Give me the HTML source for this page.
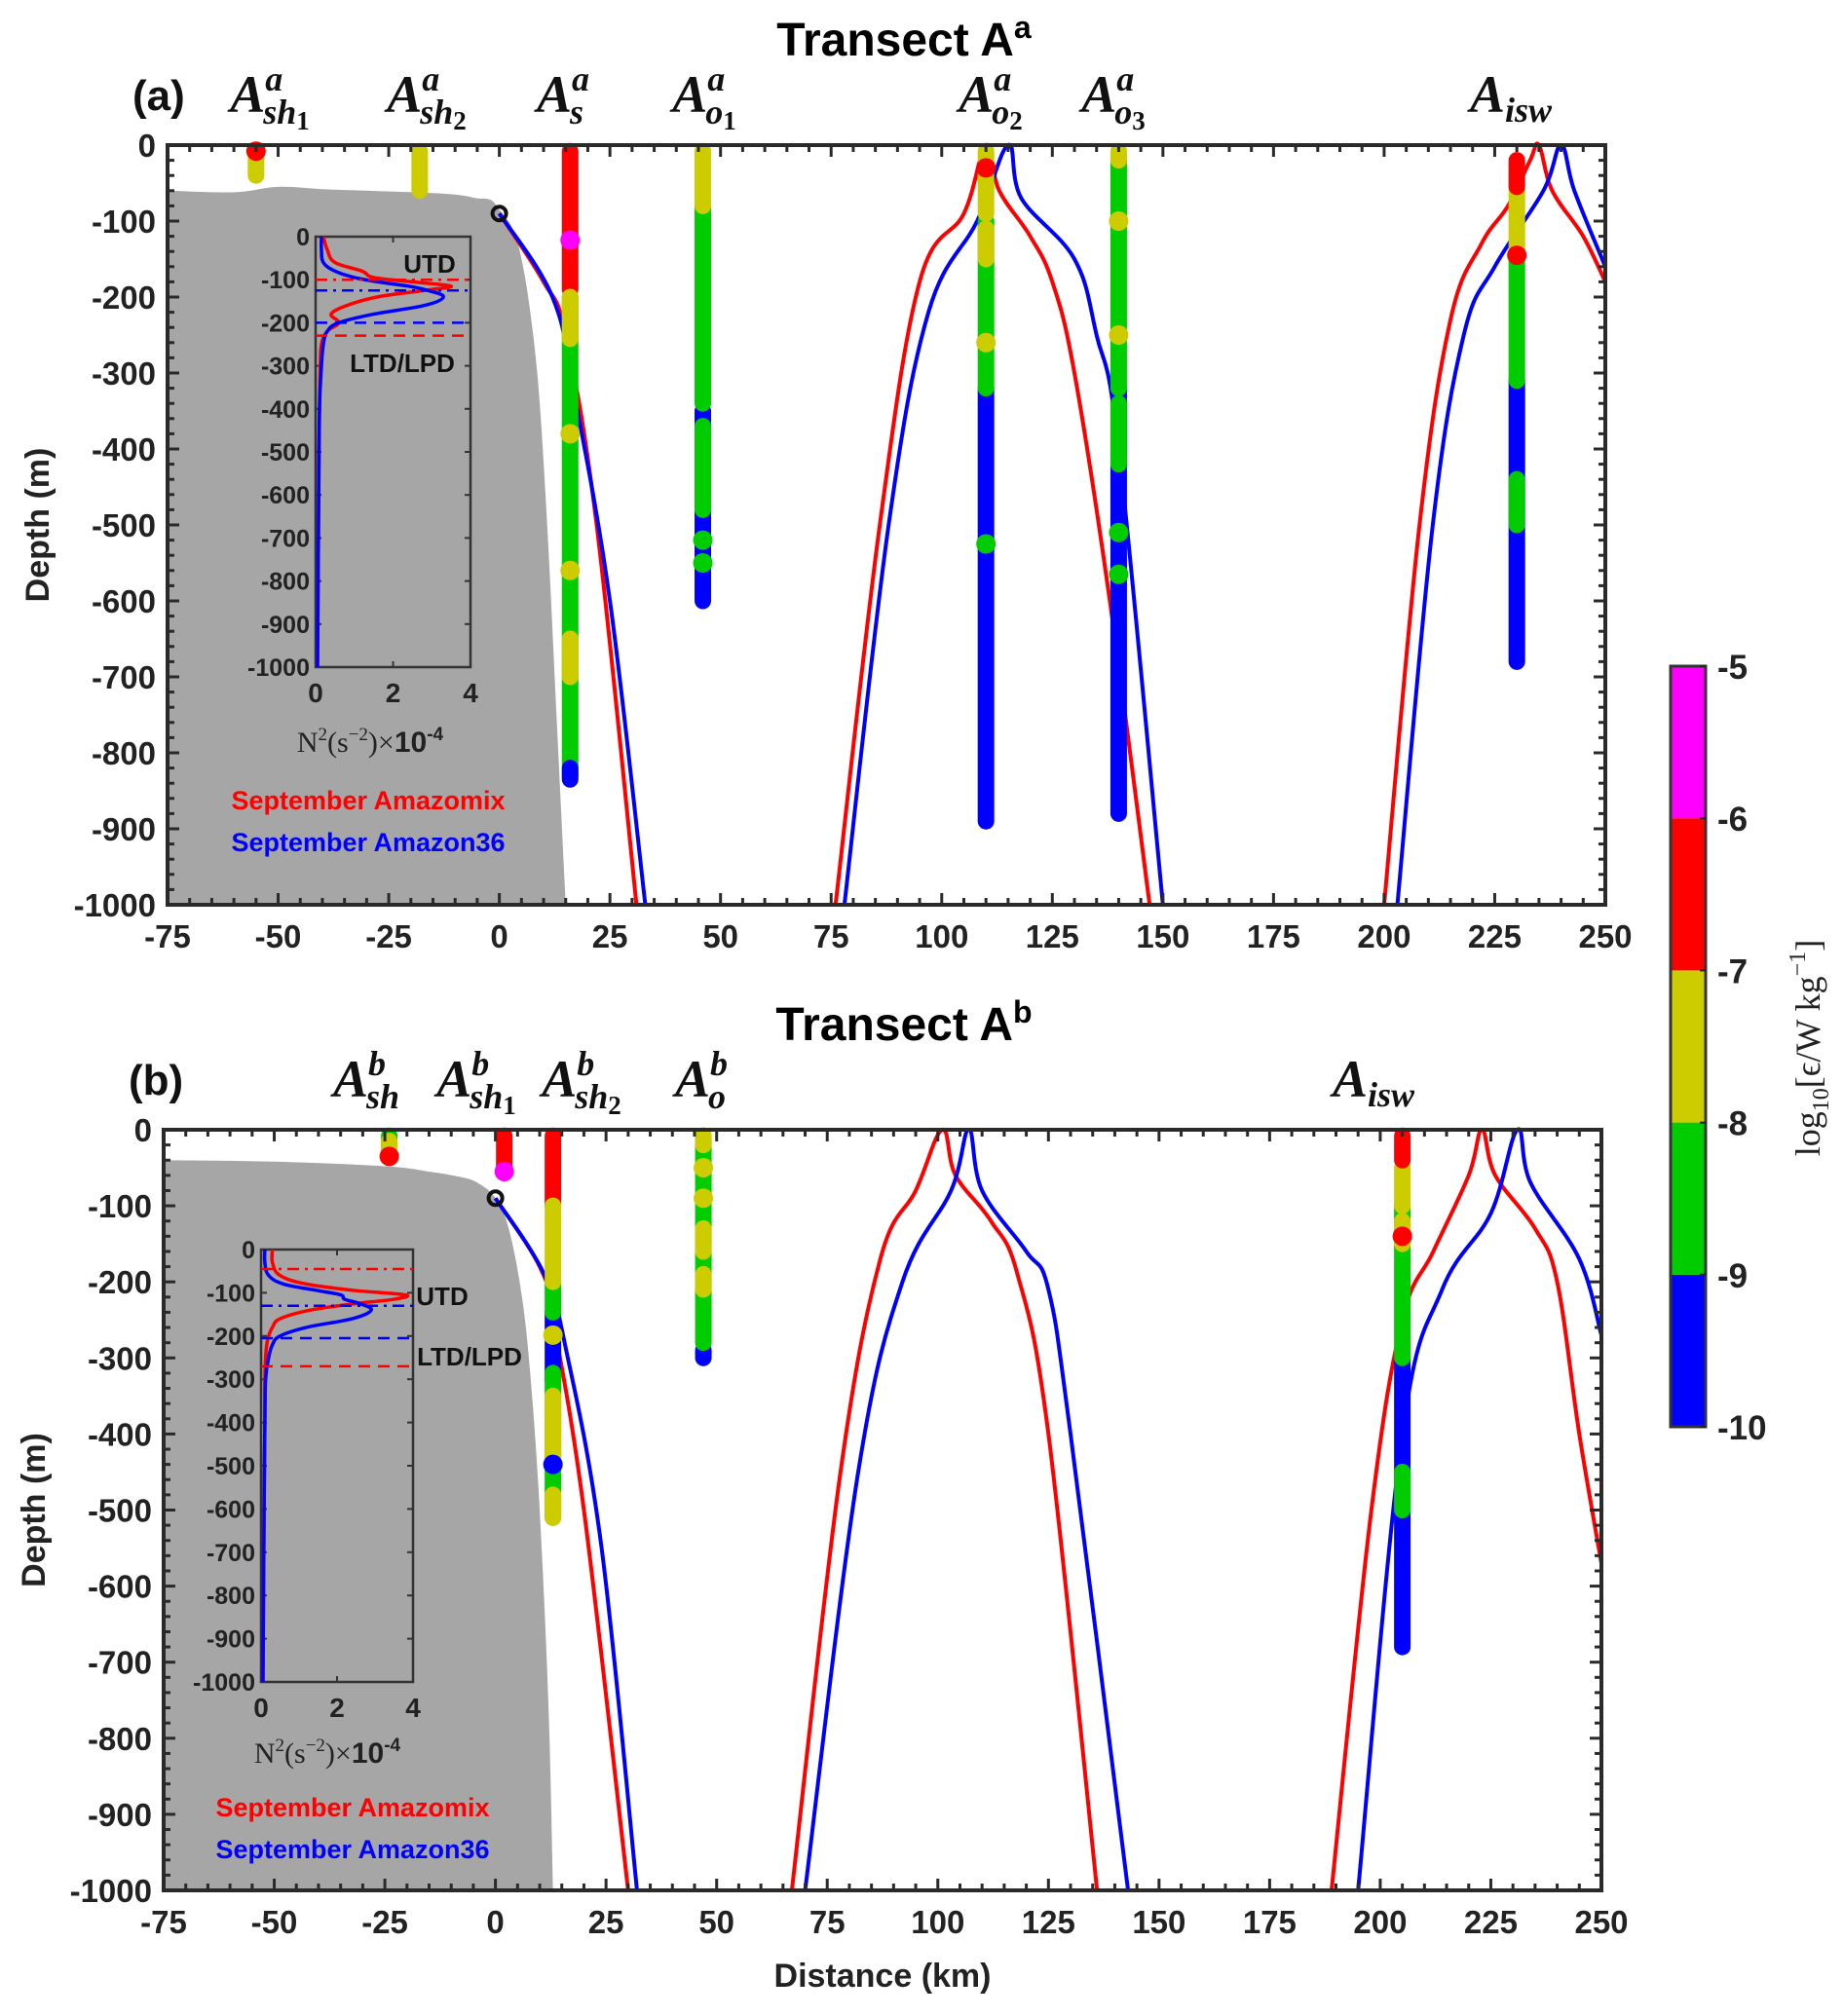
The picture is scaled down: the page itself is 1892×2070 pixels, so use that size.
<!DOCTYPE html>
<html><head><meta charset="utf-8"><style>
html,body{margin:0;padding:0;background:#fff;}
svg{display:block;}
text{font-family:"Liberation Sans",sans-serif;font-weight:bold;}
text:not([fill]){fill:#222;}
.st{font-family:"Liberation Serif",serif;font-style:italic;font-weight:bold;}
.sf{font-family:"Liberation Serif",serif;font-weight:normal;}
</style></head><body>
<svg id="fig" width="1892" height="2070" viewBox="0 0 1892 2070" xmlns="http://www.w3.org/2000/svg"></svg>
<script>
// ---------- data ----------
const xTicks = [-75,-50,-25,0,25,50,75,100,125,150,175,200,225,250];
const yTicks = [0,-100,-200,-300,-400,-500,-600,-700,-800,-900,-1000];
const insetYTicks = [0,-100,-200,-300,-400,-500,-600,-700,-800,-900,-1000];
const insetXTicks = [0,2,4];
const levelColors = ['#0000ff','#00cc00','#cccc00','#ff0000','#ff00ff'];
const cbarTicks = [-5,-6,-7,-8,-9,-10];
// level index: 0 blue,1 green,2 yellow,3 red,4 magenta
// station segments: [topDepth, bottomDepth, level]
const stationsAKm = [-55,-18,16,46,110,140,230];
const stationsASeg = [
 [[20,40,2],[8,8,3]],
 [[8,60,2]],
 [[200,830,1],[820,835,0],[380,380,2],[560,560,2],[650,700,2],[8,190,3],[125,125,4],[200,255,2]],
 [[350,600,0],[80,340,1],[370,480,1],[520,520,1],[550,550,1],[8,80,2]],
 [[320,890,0],[100,320,1],[525,525,1],[260,260,2],[8,90,2],[110,150,2],[30,30,3]],
 [[320,880,0],[20,320,1],[340,420,1],[510,510,1],[565,565,1],[8,20,2],[100,100,2],[250,250,2]],
 [[310,680,0],[150,310,1],[440,500,1],[60,140,2],[20,55,3],[145,145,3]]
];
const stationsBKm = [-24,2,13,47,205];
const stationsBSeg = [
 [[8,25,1],[15,25,2],[35,35,3]],
 [[8,50,3],[55,55,4]],
 [[240,330,0],[200,240,1],[320,510,1],[270,270,2],[350,430,2],[480,510,2],[8,100,3],[100,200,2],[440,440,0]],
 [[290,300,0],[8,280,1],[8,20,2],[50,50,2],[90,90,2],[130,160,2],[190,210,2]],
 [[300,680,0],[100,300,1],[450,500,1],[50,100,2],[120,150,2],[8,40,3],[140,140,3]]
];
// IGW ray paths: [km, depth]
const rayARedKm   = [[0,10,15,22,31],[76,86,95,105,110,113,120,125,130,138,147],[200,208,215,222,228,233,235,238,245,250]];
const rayARedDep  = [[-90,-180,-250,-500,-1000],[-1000,-500,-180,-90,0,-60,-120,-180,-300,-600,-1000],[-1000,-500,-230,-130,-80,-20,0,-60,-120,-180]];
const rayABlueKm  = [[0,12,17,25,33],[78,88,97,108,115,118,130,135,140,150],[203,211,218,225,236,240,243,250]];
const rayABlueDep = [[-90,-200,-330,-600,-1000],[-1000,-500,-220,-100,0,-70,-150,-250,-400,-1000],[-1000,-500,-250,-160,-60,0,-60,-160]];
const rayBRedKm   = [[0,10,13,20,30],[67,78,87,95,101,104,112,118,125,136],[189,198,205,212,220,223,226,235,240,245,250]];
const rayBRedDep  = [[-90,-180,-250,-500,-1000],[-1000,-450,-170,-80,0,-60,-120,-190,-400,-1000],[-1000,-500,-250,-160,-60,0,-60,-130,-200,-400,-570]];
const rayBBlueKm  = [[0,11,16,24,32],[70,82,92,103,107,110,120,125,130,143],[195,205,214,225,231,234,245,250]];
const rayBBlueDep = [[-90,-190,-290,-550,-1000],[-1000,-450,-200,-80,0,-80,-160,-210,-400,-1000],[-1000,-400,-210,-110,0,-70,-170,-270]];
// bathymetry
const bathyAKm  = [-75,-60,-50,-40,-30,-20,-10,-5,-2,0,3,5,7,9,11,13,15];
const bathyADep = [-60,-62,-55,-58,-60,-62,-65,-70,-72,-85,-110,-150,-220,-330,-520,-760,-1000];
const bathyBKm  = [-75,-50,-25,-15,-8,-4,0,3,6,8,10,12,13];
const bathyBDep = [-40,-42,-48,-55,-62,-70,-90,-130,-220,-330,-500,-760,-1000];
// inset N2 profiles (x1e-4, depth)
const n2Dep = [0,30,60,80,95,105,115,125,140,160,180,200,220,250,300,400,600,1000];
const n2ARed  = [0.2,0.3,0.5,1.2,1.5,2.5,3.5,2.8,1.6,0.8,0.4,0.6,0.3,0.15,0.12,0.1,0.08,0.05];
const n2ABlue = [0.15,0.15,0.2,0.5,1.0,1.6,2.4,2.9,3.3,2.8,1.5,0.6,0.3,0.2,0.15,0.1,0.08,0.05];
const n2BRed  = [0.3,0.3,0.5,1.2,2.5,3.8,3.5,2.5,1.3,0.5,0.3,0.2,0.15,0.12,0.1,0.1,0.08,0.05];
const n2BBlue = [0.1,0.1,0.2,0.6,1.5,2.1,2.2,2.6,2.9,2.4,1.2,0.5,0.3,0.2,0.12,0.1,0.08,0.05];
const insetALines = [[-100,'#ff0000','12 6 3 6'],[-125,'#0000ff','12 6 3 6'],[-200,'#0000ff','12 8'],[-230,'#ff0000','12 8']];
const insetBLines = [[-45,'#ff0000','12 6 3 6'],[-130,'#0000ff','12 6 3 6'],[-205,'#0000ff','12 8'],[-270,'#ff0000','12 8']];

// ---------- drawing ----------
const NS='http://www.w3.org/2000/svg';
const svg=document.getElementById('fig');
function mk(tag,attrs,parent){const e=document.createElementNS(NS,tag);for(const k in attrs)e.setAttribute(k,attrs[k]);(parent||svg).appendChild(e);return e;}
function smooth(pts){
  let d='M'+pts[0][0]+','+pts[0][1];
  for(let i=0;i<pts.length-1;i++){
    const p0=pts[Math.max(0,i-1)],p1=pts[i],p2=pts[i+1],p3=pts[Math.min(pts.length-1,i+2)];
    const t=0.18;
    const c1=[p1[0]+(p2[0]-p0[0])*t,p1[1]+(p2[1]-p0[1])*t];
    const c2=[p2[0]-(p3[0]-p1[0])*t,p2[1]-(p3[1]-p1[1])*t];
    d+=' C'+c1[0]+','+c1[1]+' '+c2[0]+','+c2[1]+' '+p2[0]+','+p2[1];
  }
  return d;
}

function panel(P){
  const g=mk('g',{});
  
  
  const X=km=>P.L+(km+75)*(P.R-P.L)/325;
  const Y=d=>P.T+(-d)*(P.B-P.T)/1000;
  // bathymetry
  const bp=[[X(-75),Y(-1000)]];
  P.bKm.forEach((k,i)=>bp.push([X(k),Y(P.bDep[i])]));
  const ba=mk('path',{d:smooth(bp.slice(1)).replace('M','M'+X(-75)+','+Y(-1000)+' L')+' Z',fill:'#a6a6a6'},g);
  
  
  // rays
  const drawRays=(kms,deps,col,nm)=>{kms.forEach((arr,j)=>{const pts=arr.map((k,i)=>[X(k),Y(deps[j][i])]);
    const e=mk('path',{d:smooth(pts),fill:'none',stroke:col,'stroke-width':4,'stroke-linejoin':'round'},g);
    
    });};
  drawRays(P.rrK,P.rrD,'#ff0000','ray-amazomix');
  drawRays(P.rbK,P.rbD,'#0000ff','ray-amazon36');
  const oc=mk('circle',{cx:X(0),cy:Y(-90),r:7,fill:'none',stroke:'#111','stroke-width':4},g);
  
  
  // inset
  const I=P.inset;
  const ix=v=>I.L+v*(I.R-I.L)/4, iy=dd=>I.T+(-dd)*(I.B-I.T)/1000;
  const ibox=mk('rect',{x:I.L,y:I.T,width:I.R-I.L,height:I.B-I.T,fill:'none',stroke:'#333','stroke-width':2.5},g);
  
  
  insetYTicks.forEach(t=>{mk('line',{x1:I.L,x2:I.L+6,y1:iy(t),y2:iy(t),stroke:'#333','stroke-width':2},g);mk('line',{x1:I.R,x2:I.R-6,y1:iy(t),y2:iy(t),stroke:'#333','stroke-width':2},g);
    const tx=mk('text',{x:I.L-6,y:iy(t)+9,'text-anchor':'end','font-size':25},g);tx.textContent=t;
    
    });
  insetXTicks.forEach(t=>{mk('line',{x1:ix(t),x2:ix(t),y1:I.T,y2:I.T+6,stroke:'#333','stroke-width':2},g);mk('line',{x1:ix(t),x2:ix(t),y1:I.B,y2:I.B-6,stroke:'#333','stroke-width':2},g);
    const tx=mk('text',{x:ix(t),y:I.B+36,'text-anchor':'middle','font-size':28},g);tx.textContent=t;
    
    });
  const prof=(vals,col,nm)=>{const pts=vals.map((v,i)=>[ix(v),iy(-n2Dep[i])]);
    const e=mk('path',{d:smooth(pts),fill:'none',stroke:col,'stroke-width':3.5},g);
    
    };
  prof(P.n2r,'#ff0000','n2-amazomix');
  prof(P.n2b,'#0000ff','n2-amazon36');
  P.iLines.forEach(l=>{const e=mk('line',{x1:I.L,x2:I.R,y1:iy(l[0]),y2:iy(l[0]),stroke:l[1],'stroke-width':2.5,'stroke-dasharray':l[2]},g);
    
    });
  const ut=mk('text',{x:P.utd[0],y:P.utd[1],'text-anchor':'middle','font-size':26,fill:'#111'},g);ut.textContent='UTD';
  
  
  const lt=mk('text',{x:P.ltd[0],y:P.ltd[1],'text-anchor':'middle','font-size':26,fill:'#111'},g);lt.textContent='LTD/LPD';
  
  
  const nl=mk('text',{x:P.n2l[0],y:P.n2l[1],'text-anchor':'middle','font-size':30,class:'sf',fill:'#222'},g);
  nl.innerHTML='N<tspan dy="-12" font-size="19">2</tspan><tspan dy="12">(s</tspan><tspan dy="-12" font-size="19">−2</tspan><tspan dy="12">)×</tspan><tspan font-family="Liberation Sans" font-weight="bold">10</tspan><tspan dy="-12" font-size="19" font-family="Liberation Sans" font-weight="bold">-4</tspan>';
  
  
  // legend
  const l1=mk('text',{x:P.leg[0],y:P.leg[1],'text-anchor':'middle','font-size':27,fill:'#ff0000'},g);l1.textContent='September Amazomix';
  
  
  const l2=mk('text',{x:P.leg[0],y:P.leg[1]+43,'text-anchor':'middle','font-size':27,fill:'#0000ff'},g);l2.textContent='September Amazon36';
  
  
  // stations
  P.sKm.forEach((k,i)=>{
    const sg=mk('g',{},g);
    
    
    P.sSeg[i].forEach(s=>{
      if(s[0]===s[1]){const c=mk('circle',{cx:X(k),cy:Y(-s[0]),r:10,fill:levelColors[s[2]]},sg);
        
        }
      else{const ln=mk('line',{x1:X(k),x2:X(k),y1:Y(-s[0]),y2:Y(-s[1]),stroke:levelColors[s[2]],'stroke-width':17,'stroke-linecap':'round'},sg);
        
        }
    });
  });
  // axes frame
  const fr=mk('rect',{x:P.L,y:P.T,width:P.R-P.L,height:P.B-P.T,fill:'none',stroke:'#2a2a2a','stroke-width':4},g);
  
  
  for(let k=-75;k<=250;k+=5){const big=(k%25===0);const h=big?12:7;
    mk('line',{x1:X(k),x2:X(k),y1:P.B,y2:P.B-h,stroke:'#2a2a2a','stroke-width':3},g);
    mk('line',{x1:X(k),x2:X(k),y1:P.T,y2:P.T+h,stroke:'#2a2a2a','stroke-width':3},g);}
  for(let dd=0;dd>=-1000;dd-=20){const big=(dd%100===0);const h=big?12:7;
    mk('line',{x1:P.L,x2:P.L+h,y1:Y(dd),y2:Y(dd),stroke:'#2a2a2a','stroke-width':3},g);
    mk('line',{x1:P.R,x2:P.R-h,y1:Y(dd),y2:Y(dd),stroke:'#2a2a2a','stroke-width':3},g);}
  xTicks.forEach(t=>{const tx=mk('text',{x:X(t),y:P.B+44,'text-anchor':'middle','font-size':33},g);tx.textContent=t;
    
    });
  yTicks.forEach(t=>{const tx=mk('text',{x:P.L-12,y:Y(t)+12,'text-anchor':'end','font-size':33},g);tx.textContent=t;
    
    });
  const yl=mk('text',{x:0,y:0,'text-anchor':'middle','font-size':34,transform:'translate('+(P.L-122)+','+((P.T+P.B)/2)+') rotate(-90)'},g);yl.textContent='Depth (m)';
  
  
  const tt=mk('text',{x:928,y:P.T-92,'text-anchor':'middle','font-size':48,fill:'#000'},g);
  tt.innerHTML='Transect A<tspan dy="-18" font-size="32">'+P.sup+'</tspan>';
  
  
  const pl=mk('text',{x:P.L-36,y:P.T-36,'font-size':44,fill:'#111'},g);pl.textContent=P.letter;
  
  
  P.labels.forEach(lb=>{const tx=mk('text',{x:lb[0],y:P.T-34,'text-anchor':'middle','font-size':54,class:'st',fill:'#111'},g);
    tx.innerHTML='A'+(lb[2]?'<tspan dy="-22" font-size="36">'+lb[2]+'</tspan><tspan dx="-20" dy="34" font-size="36">'+lb[1]+'</tspan>':'<tspan dy="10" font-size="36">'+lb[1]+'</tspan>')+(lb[3]?'<tspan dy="6" font-size="27" font-style="normal">'+lb[3]+'</tspan>':'');
    
    });
}

panel({name:'panel-a',letter:'(a)',sup:'a',L:172,R:1648,T:149,B:929,
  bKm:bathyAKm,bDep:bathyADep,rrK:rayARedKm,rrD:rayARedDep,rbK:rayABlueKm,rbD:rayABlueDep,
  inset:{L:324,R:483,T:243,B:685},n2r:n2ARed,n2b:n2ABlue,iLines:insetALines,
  utd:[441,280],ltd:[413,382],n2l:[380,772],leg:[378,831],
  sKm:stationsAKm,sSeg:stationsASeg,
  labels:[[277,'sh','a','1'],[438,'sh','a','2'],[578,'s','a',''],[723,'o','a','1'],[1017,'o','a','2'],[1143,'o','a','3'],[1551,'isw','','']]});
panel({name:'panel-b',letter:'(b)',sup:'b',L:168,R:1644,T:1160,B:1941,
  bKm:bathyBKm,bDep:bathyBDep,rrK:rayBRedKm,rrD:rayBRedDep,rbK:rayBBlueKm,rbD:rayBBlueDep,
  inset:{L:268,R:424,T:1283,B:1727},n2r:n2BRed,n2b:n2BBlue,iLines:insetBLines,
  utd:[454,1340],ltd:[482,1402],n2l:[336,1810],leg:[362,1865],
  sKm:stationsBKm,sSeg:stationsBSeg,
  labels:[[376,'sh','b',''],[489,'sh','b','1'],[597,'sh','b','2'],[720,'o','b',''],[1410,'isw','','']]});

const xl=mk('text',{x:906,y:2040,'text-anchor':'middle','font-size':34});xl.textContent='Distance (km)';



// colorbar
const cb=mk('g',{});


const cT=684,cB=1465,cL=1715,cR=1751;
const cy=v=>cT+(-5-v)*(cB-cT)/5;
levelColors.forEach((c,i)=>{const lo=-10+i;const r=mk('rect',{x:cL,y:cy(lo+1),width:cR-cL,height:cy(lo)-cy(lo+1),fill:c},cb);
  
  });
mk('rect',{x:cL,y:cT,width:cR-cL,height:cB-cT,fill:'none',stroke:'#333','stroke-width':3},cb);
cbarTicks.forEach(t=>{mk('line',{x1:cR-6,x2:cR,y1:cy(t),y2:cy(t),stroke:'#222','stroke-width':2},cb);
  const tx=mk('text',{x:cR+12,y:cy(t)+13,'font-size':35},cb);tx.textContent=t;
  
  });
const cl=mk('text',{x:0,y:0,'text-anchor':'middle','font-size':36,class:'sf',fill:'#222',transform:'translate(1868,1076) rotate(-90)'},cb);
cl.innerHTML='log<tspan dy="9" font-size="24">10</tspan><tspan dy="-9">[ϵ/W kg</tspan><tspan dy="-15" font-size="24">−1</tspan><tspan dy="15">]</tspan>';


</script>
</body></html>
